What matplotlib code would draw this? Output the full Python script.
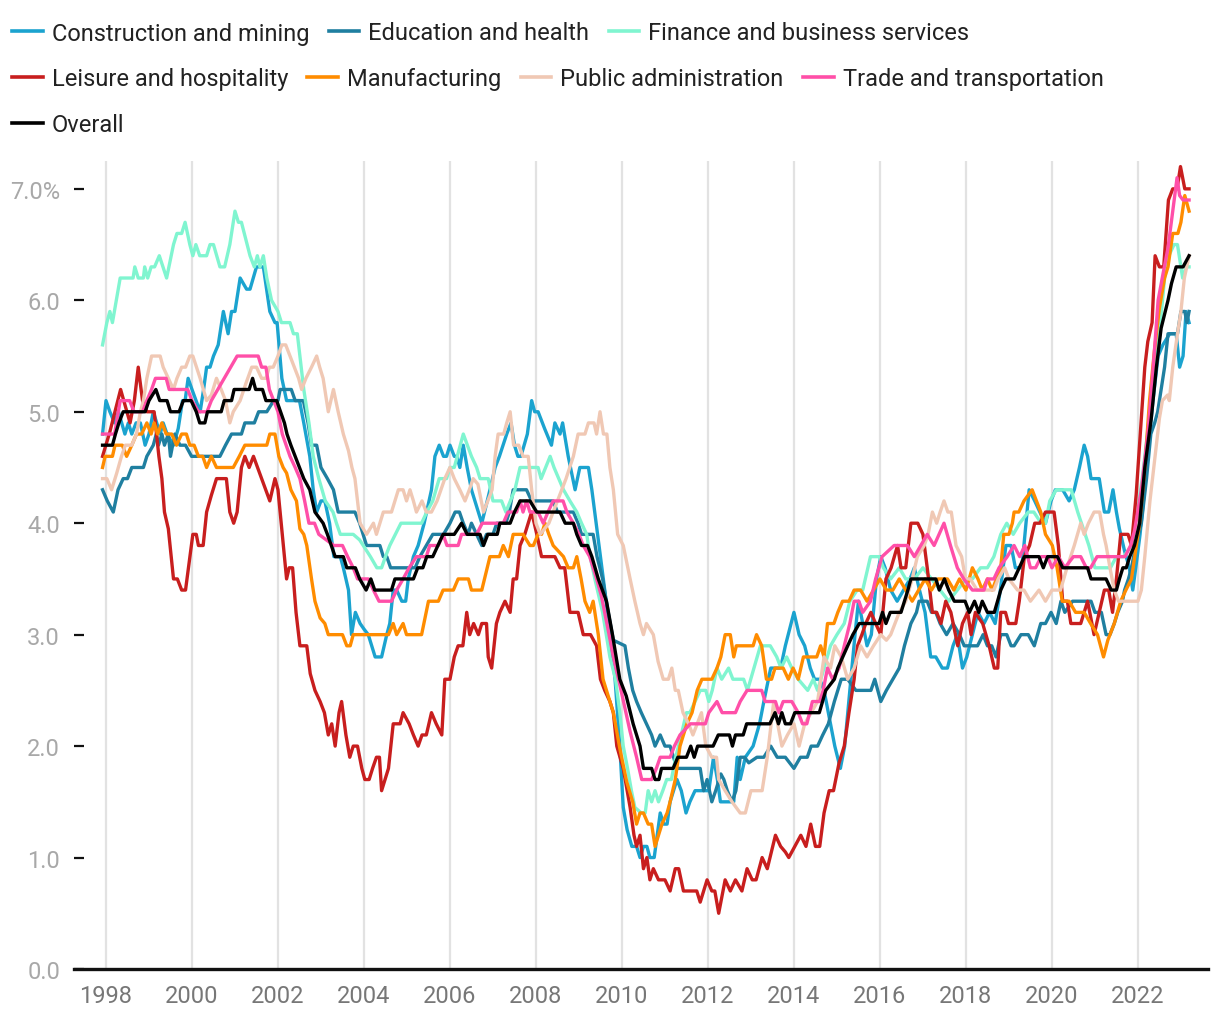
import matplotlib
matplotlib.use("Agg")
import matplotlib.pyplot as plt
import matplotlib.ticker as ticker
from matplotlib.lines import Line2D

plt.rcParams["font.family"] = ["Roboto", "DejaVu Sans"]

# (decimal year, 12-month wage growth %)
CONSTRUCTION = [
    (1997.92, 4.8), (1998.0, 5.1), (1998.09, 5.0), (1998.2, 4.9), (1998.29, 5.0), (1998.44, 4.8),
    (1998.52, 4.9), (1998.6, 4.8), (1998.7, 4.9), (1998.8, 4.9), (1998.91, 4.7), (1999.0, 4.8),
    (1999.1, 5.0), (1999.18, 4.9), (1999.26, 4.8), (1999.33, 4.9), (1999.42, 4.8), (1999.57, 4.7),
    (1999.68, 4.85), (1999.78, 5.1), (1999.84, 5.1), (1999.91, 5.3), (2000.0, 5.2), (2000.19, 5.0),
    (2000.27, 5.2), (2000.34, 5.4), (2000.42, 5.4), (2000.5, 5.5), (2000.61, 5.6), (2000.73, 5.9),
    (2000.84, 5.7), (2000.92, 5.9), (2001.0, 5.9), (2001.12, 6.2), (2001.27, 6.1), (2001.35, 6.1),
    (2001.5, 6.3), (2001.66, 6.3), (2001.81, 5.9), (2001.93, 5.8), (2001.98, 5.8), (2002.09, 5.3),
    (2002.2, 5.1), (2002.5, 5.1), (2002.6, 4.9), (2002.74, 4.6), (2002.82, 4.3), (2002.9, 4.1),
    (2003.0, 4.2), (2003.09, 4.2), (2003.2, 4.0), (2003.3, 3.7), (2003.45, 3.7), (2003.52, 3.6),
    (2003.64, 3.4), (2003.71, 3.0), (2003.8, 3.2), (2003.91, 3.1), (2004.0, 3.05), (2004.1, 3.0),
    (2004.26, 2.8), (2004.41, 2.8), (2004.53, 3.0), (2004.6, 3.1), (2004.68, 3.4), (2004.76, 3.4),
    (2004.88, 3.3), (2004.97, 3.3), (2005.03, 3.5), (2005.15, 3.7), (2005.26, 3.8), (2005.4, 4.0),
    (2005.57, 4.3), (2005.65, 4.6), (2005.75, 4.7), (2005.85, 4.6), (2005.92, 4.6), (2006.0, 4.7),
    (2006.1, 4.6), (2006.16, 4.6), (2006.23, 4.5), (2006.31, 4.7), (2006.4, 4.5), (2006.5, 4.3),
    (2006.74, 4.0), (2006.93, 4.3), (2007.05, 4.5), (2007.15, 4.6), (2007.32, 4.8), (2007.42, 4.9),
    (2007.5, 4.7), (2007.58, 4.6), (2007.65, 4.6), (2007.8, 4.8), (2007.9, 5.1), (2007.97, 5.0),
    (2008.05, 5.0), (2008.2, 4.85), (2008.36, 4.7), (2008.44, 4.9), (2008.56, 4.8), (2008.62, 4.9),
    (2008.75, 4.6), (2008.91, 4.3), (2009.02, 4.5), (2009.22, 4.5), (2009.3, 4.3), (2009.4, 4.0),
    (2009.5, 3.7), (2009.6, 3.4), (2009.72, 3.0), (2009.84, 2.6), (2009.95, 2.0), (2010.03, 1.45),
    (2010.12, 1.25), (2010.23, 1.1), (2010.34, 1.1), (2010.42, 1.0), (2010.5, 1.1), (2010.58, 1.1),
    (2010.65, 1.0), (2010.75, 1.0), (2010.89, 1.4), (2010.97, 1.3), (2011.05, 1.3), (2011.12, 1.5),
    (2011.28, 1.7), (2011.38, 1.6), (2011.49, 1.4), (2011.58, 1.5), (2011.7, 1.6), (2011.85, 1.6),
    (2012.02, 1.6), (2012.13, 1.9), (2012.22, 1.7), (2012.29, 1.5), (2012.5, 1.5), (2012.6, 1.5),
    (2012.68, 1.9), (2012.75, 1.7), (2012.87, 1.9), (2013.05, 2.0), (2013.2, 2.2), (2013.3, 2.4),
    (2013.46, 2.7), (2013.69, 2.7), (2013.8, 2.9), (2014.0, 3.2), (2014.12, 3.0), (2014.25, 2.9),
    (2014.38, 2.7), (2014.48, 2.6), (2014.6, 2.6), (2014.7, 2.5), (2014.8, 2.3), (2014.95, 2.0),
    (2015.08, 1.8), (2015.18, 2.0), (2015.3, 2.5), (2015.42, 3.0), (2015.5, 3.3), (2015.6, 3.1),
    (2015.7, 2.9), (2015.8, 3.0), (2015.92, 3.5), (2016.02, 3.7), (2016.12, 3.6), (2016.25, 3.4),
    (2016.4, 3.3), (2016.55, 3.4), (2016.7, 3.5), (2016.8, 3.6), (2016.92, 3.4), (2017.05, 3.2),
    (2017.18, 2.8), (2017.3, 2.8), (2017.45, 2.7), (2017.57, 2.7), (2017.7, 2.9), (2017.8, 3.0),
    (2017.92, 2.7), (2018.02, 2.8), (2018.15, 3.0), (2018.28, 3.2), (2018.42, 3.1), (2018.55, 3.2),
    (2018.68, 3.1), (2018.8, 3.4), (2018.93, 3.8), (2019.05, 3.8), (2019.15, 3.6), (2019.3, 3.6),
    (2019.47, 4.3), (2019.6, 4.2), (2019.72, 4.1), (2019.85, 4.0), (2019.98, 4.2), (2020.08, 4.3),
    (2020.25, 4.3), (2020.4, 4.2), (2020.52, 4.3), (2020.64, 4.5), (2020.75, 4.7), (2020.83, 4.6),
    (2020.91, 4.4), (2021.1, 4.4), (2021.22, 4.1), (2021.32, 4.1), (2021.42, 4.3), (2021.5, 4.1),
    (2021.57, 3.95), (2021.69, 3.75), (2021.8, 3.6), (2021.88, 3.4), (2021.95, 3.6), (2022.05, 3.9),
    (2022.18, 4.4), (2022.35, 5.1), (2022.47, 5.5), (2022.58, 5.6), (2022.74, 5.7), (2022.89, 5.7),
    (2022.97, 5.4), (2023.05, 5.5), (2023.12, 5.9), (2023.19, 5.8),
]

EDUCATION = [
    (1997.92, 4.3), (1998.03, 4.2), (1998.17, 4.1), (1998.28, 4.3), (1998.4, 4.4), (1998.5, 4.4),
    (1998.6, 4.5), (1998.87, 4.5), (1998.95, 4.6), (1999.1, 4.7), (1999.17, 4.8), (1999.22, 4.7),
    (1999.3, 4.8), (1999.36, 4.7), (1999.45, 4.8), (1999.5, 4.6), (1999.6, 4.8), (1999.72, 4.7),
    (1999.85, 4.7), (1999.99, 4.6), (2000.65, 4.6), (2000.78, 4.7), (2000.92, 4.8), (2001.15, 4.8),
    (2001.23, 4.9), (2001.45, 4.9), (2001.55, 5.0), (2001.74, 5.0), (2001.9, 5.1), (2002.0, 5.1),
    (2002.05, 5.2), (2002.31, 5.2), (2002.4, 5.1), (2002.59, 5.1), (2002.7, 4.9), (2002.78, 4.7),
    (2002.9, 4.7), (2003.0, 4.5), (2003.15, 4.4), (2003.29, 4.3), (2003.4, 4.1), (2003.79, 4.1),
    (2003.9, 4.0), (2004.06, 3.8), (2004.37, 3.8), (2004.45, 3.7), (2004.53, 3.7), (2004.62, 3.6),
    (2005.19, 3.6), (2005.3, 3.7), (2005.45, 3.8), (2005.6, 3.9), (2005.85, 3.9), (2006.0, 4.0),
    (2006.12, 4.1), (2006.22, 4.1), (2006.31, 4.0), (2006.42, 3.9), (2006.5, 4.0), (2006.62, 3.9),
    (2006.74, 3.8), (2006.85, 3.9), (2007.0, 3.9), (2007.09, 4.0), (2007.3, 4.0), (2007.38, 4.1),
    (2007.47, 4.3), (2007.78, 4.3), (2007.9, 4.2), (2008.4, 4.2), (2008.5, 4.1), (2008.87, 4.1),
    (2008.98, 4.0), (2009.06, 3.9), (2009.33, 3.9), (2009.42, 3.7), (2009.55, 3.5), (2009.68, 3.2),
    (2009.8, 2.95), (2010.07, 2.9), (2010.15, 2.7), (2010.25, 2.5), (2010.34, 2.4), (2010.45, 2.3),
    (2010.57, 2.2), (2010.69, 2.1), (2010.77, 2.0), (2010.89, 2.1), (2011.0, 2.0), (2011.12, 2.0),
    (2011.2, 1.9), (2011.28, 1.8), (2011.82, 1.8), (2011.9, 1.6), (2011.98, 1.7), (2012.09, 1.5),
    (2012.18, 1.6), (2012.3, 1.75), (2012.37, 1.7), (2012.45, 1.6), (2012.56, 1.5), (2012.65, 1.6),
    (2012.75, 1.9), (2012.85, 1.9), (2012.95, 1.85), (2013.14, 1.9), (2013.3, 1.9), (2013.46, 2.0),
    (2013.61, 1.9), (2013.8, 1.9), (2014.0, 1.8), (2014.15, 1.9), (2014.31, 1.9), (2014.4, 2.0),
    (2014.55, 2.0), (2014.67, 2.1), (2014.8, 2.2), (2014.94, 2.4), (2015.1, 2.6), (2015.25, 2.6),
    (2015.44, 2.5), (2015.79, 2.5), (2015.88, 2.6), (2016.02, 2.4), (2016.15, 2.5), (2016.3, 2.6),
    (2016.45, 2.7), (2016.57, 2.9), (2016.72, 3.1), (2016.85, 3.2), (2016.91, 3.3), (2017.1, 3.3),
    (2017.2, 3.2), (2017.3, 3.2), (2017.4, 3.1), (2017.55, 3.0), (2017.7, 3.1), (2017.85, 3.0),
    (2017.96, 2.9), (2018.27, 2.9), (2018.4, 3.0), (2018.5, 2.9), (2018.6, 2.9), (2018.7, 2.8),
    (2018.81, 3.0), (2018.95, 3.0), (2019.05, 2.9), (2019.12, 2.9), (2019.28, 3.0), (2019.45, 3.0),
    (2019.59, 2.9), (2019.74, 3.1), (2019.85, 3.1), (2019.98, 3.2), (2020.1, 3.1), (2020.21, 3.3),
    (2020.3, 3.2), (2020.48, 3.3), (2020.91, 3.3), (2021.0, 3.2), (2021.15, 3.2), (2021.26, 3.0),
    (2021.35, 3.0), (2021.45, 3.1), (2021.53, 3.2), (2021.64, 3.3), (2021.69, 3.4), (2021.78, 3.5),
    (2021.85, 3.6), (2021.95, 3.8), (2022.08, 4.0), (2022.2, 4.4), (2022.3, 4.8), (2022.39, 4.9),
    (2022.46, 5.0), (2022.54, 5.2), (2022.62, 5.4), (2022.7, 5.7), (2022.92, 5.7), (2023.0, 5.9),
    (2023.09, 5.9), (2023.14, 5.8), (2023.19, 5.9),
]

FINANCE = [
    (1997.92, 5.6), (1998.02, 5.8), (1998.09, 5.9), (1998.15, 5.8), (1998.33, 6.2), (1998.63, 6.2),
    (1998.67, 6.3), (1998.75, 6.2), (1998.87, 6.2), (1998.9, 6.3), (1998.97, 6.2), (1999.05, 6.3),
    (1999.13, 6.3), (1999.24, 6.4), (1999.41, 6.2), (1999.57, 6.5), (1999.65, 6.6), (1999.76, 6.6),
    (1999.84, 6.7), (1999.95, 6.5), (2000.02, 6.4), (2000.09, 6.5), (2000.18, 6.4), (2000.34, 6.4),
    (2000.42, 6.5), (2000.5, 6.5), (2000.65, 6.3), (2000.76, 6.3), (2000.88, 6.5), (2001.0, 6.8),
    (2001.08, 6.7), (2001.15, 6.7), (2001.35, 6.4), (2001.45, 6.3), (2001.52, 6.4), (2001.58, 6.3),
    (2001.66, 6.4), (2001.74, 6.2), (2001.85, 6.0), (2002.0, 5.9), (2002.08, 5.8), (2002.28, 5.8),
    (2002.36, 5.7), (2002.45, 5.7), (2002.51, 5.5), (2002.6, 5.2), (2002.72, 4.9), (2002.82, 4.6),
    (2002.95, 4.4), (2003.1, 4.2), (2003.28, 4.1), (2003.36, 4.0), (2003.45, 3.9), (2003.75, 3.9),
    (2003.9, 3.85), (2004.15, 3.7), (2004.3, 3.6), (2004.41, 3.6), (2004.5, 3.7), (2004.6, 3.8),
    (2004.86, 4.0), (2005.34, 4.0), (2005.46, 4.1), (2005.6, 4.2), (2005.75, 4.4), (2005.92, 4.4),
    (2006.0, 4.5), (2006.1, 4.5), (2006.31, 4.8), (2006.5, 4.6), (2006.62, 4.5), (2006.7, 4.4),
    (2006.89, 4.4), (2007.0, 4.2), (2007.2, 4.2), (2007.3, 4.1), (2007.51, 4.3), (2007.63, 4.5),
    (2008.05, 4.5), (2008.12, 4.4), (2008.33, 4.6), (2008.42, 4.5), (2008.64, 4.3), (2008.79, 4.2),
    (2008.95, 4.1), (2009.06, 4.0), (2009.18, 3.9), (2009.26, 3.7), (2009.37, 3.5), (2009.55, 3.2),
    (2009.72, 2.8), (2009.85, 2.6), (2009.95, 2.3), (2010.03, 2.0), (2010.13, 1.8), (2010.22, 1.6),
    (2010.3, 1.45), (2010.45, 1.4), (2010.54, 1.4), (2010.61, 1.6), (2010.69, 1.5), (2010.77, 1.6),
    (2010.85, 1.5), (2010.95, 1.6), (2011.04, 1.7), (2011.15, 1.7), (2011.25, 1.9), (2011.38, 2.1),
    (2011.5, 2.3), (2011.58, 2.3), (2011.7, 2.4), (2011.82, 2.5), (2011.95, 2.5), (2012.02, 2.4),
    (2012.1, 2.5), (2012.21, 2.7), (2012.32, 2.6), (2012.48, 2.7), (2012.58, 2.6), (2012.83, 2.6),
    (2012.92, 2.5), (2013.07, 2.7), (2013.22, 2.9), (2013.45, 2.9), (2013.6, 2.8), (2013.7, 2.7),
    (2013.83, 2.8), (2013.95, 2.7), (2014.1, 2.6), (2014.32, 2.5), (2014.45, 2.6), (2014.55, 2.5),
    (2014.7, 2.7), (2014.85, 2.9), (2015.0, 3.0), (2015.17, 3.1), (2015.3, 3.3), (2015.47, 3.4),
    (2015.6, 3.4), (2015.78, 3.7), (2015.98, 3.7), (2016.08, 3.6), (2016.25, 3.5), (2016.45, 3.6),
    (2016.6, 3.5), (2016.8, 3.5), (2017.0, 3.6), (2017.2, 3.5), (2017.4, 3.4), (2017.6, 3.3),
    (2017.8, 3.4), (2018.0, 3.5), (2018.15, 3.5), (2018.34, 3.6), (2018.5, 3.6), (2018.65, 3.7),
    (2018.81, 3.9), (2018.95, 4.0), (2019.1, 3.9), (2019.25, 4.0), (2019.45, 4.1), (2019.58, 4.1),
    (2019.75, 4.0), (2019.85, 4.0), (2019.95, 4.2), (2020.1, 4.3), (2020.45, 4.3), (2020.6, 4.1),
    (2020.86, 3.8), (2021.0, 3.6), (2021.36, 3.6), (2021.5, 3.7), (2021.67, 3.7), (2021.85, 3.8),
    (2021.95, 4.0), (2022.1, 4.4), (2022.25, 4.9), (2022.38, 5.4), (2022.5, 5.7), (2022.62, 6.2),
    (2022.72, 6.4), (2022.84, 6.5), (2022.92, 6.5), (2023.04, 6.2), (2023.12, 6.3), (2023.19, 6.3),
]

LEISURE = [
    (1997.92, 4.6), (1998.09, 4.82), (1998.34, 5.2), (1998.45, 5.05), (1998.56, 4.9), (1998.66, 5.1),
    (1998.75, 5.4), (1998.85, 5.1), (1998.95, 5.0), (1999.12, 5.0), (1999.23, 4.6), (1999.3, 4.4),
    (1999.36, 4.1), (1999.45, 3.95), (1999.57, 3.5), (1999.66, 3.5), (1999.76, 3.4), (1999.85, 3.4),
    (2000.02, 3.9), (2000.1, 3.9), (2000.15, 3.8), (2000.26, 3.8), (2000.34, 4.1), (2000.45, 4.25),
    (2000.57, 4.4), (2000.8, 4.4), (2000.88, 4.1), (2000.97, 4.0), (2001.05, 4.1), (2001.15, 4.5),
    (2001.23, 4.6), (2001.33, 4.5), (2001.43, 4.6), (2001.62, 4.4), (2001.81, 4.2), (2001.93, 4.4),
    (2002.0, 4.3), (2002.1, 3.9), (2002.2, 3.5), (2002.26, 3.6), (2002.34, 3.6), (2002.42, 3.2),
    (2002.51, 2.9), (2002.67, 2.9), (2002.75, 2.65), (2002.86, 2.5), (2002.98, 2.4), (2003.08, 2.3),
    (2003.17, 2.1), (2003.25, 2.2), (2003.33, 2.0), (2003.42, 2.3), (2003.48, 2.4), (2003.58, 2.1),
    (2003.67, 1.9), (2003.75, 2.0), (2003.85, 2.0), (2003.95, 1.8), (2004.02, 1.7), (2004.12, 1.7),
    (2004.2, 1.8), (2004.29, 1.9), (2004.36, 1.9), (2004.41, 1.6), (2004.57, 1.8), (2004.68, 2.2),
    (2004.84, 2.2), (2004.91, 2.3), (2005.05, 2.2), (2005.15, 2.1), (2005.26, 2.0), (2005.35, 2.1),
    (2005.45, 2.1), (2005.57, 2.3), (2005.68, 2.2), (2005.81, 2.1), (2005.88, 2.6), (2006.0, 2.6),
    (2006.1, 2.8), (2006.19, 2.9), (2006.3, 2.9), (2006.39, 3.2), (2006.46, 3.0), (2006.55, 3.1),
    (2006.66, 3.0), (2006.74, 3.1), (2006.85, 3.1), (2006.89, 2.8), (2006.97, 2.7), (2007.08, 3.1),
    (2007.16, 3.2), (2007.28, 3.3), (2007.4, 3.2), (2007.47, 3.5), (2007.55, 3.5), (2007.63, 3.8),
    (2007.74, 3.9), (2007.9, 4.1), (2008.02, 3.9), (2008.13, 3.7), (2008.44, 3.7), (2008.56, 3.6),
    (2008.67, 3.6), (2008.79, 3.2), (2008.98, 3.2), (2009.1, 3.0), (2009.27, 3.0), (2009.41, 2.9),
    (2009.5, 2.6), (2009.6, 2.5), (2009.72, 2.4), (2009.8, 2.3), (2009.88, 2.0), (2010.03, 1.8),
    (2010.19, 1.45), (2010.28, 1.2), (2010.34, 1.1), (2010.42, 1.2), (2010.5, 0.9), (2010.58, 1.0),
    (2010.65, 0.8), (2010.73, 0.9), (2010.85, 0.8), (2011.0, 0.8), (2011.12, 0.7), (2011.24, 0.9),
    (2011.32, 0.9), (2011.43, 0.7), (2011.74, 0.7), (2011.82, 0.6), (2011.98, 0.8), (2012.09, 0.7),
    (2012.16, 0.7), (2012.25, 0.5), (2012.4, 0.8), (2012.52, 0.7), (2012.64, 0.8), (2012.79, 0.7),
    (2012.91, 0.9), (2013.03, 0.8), (2013.12, 0.8), (2013.26, 1.0), (2013.38, 0.9), (2013.57, 1.2),
    (2013.69, 1.1), (2013.8, 1.05), (2013.88, 1.0), (2014.16, 1.2), (2014.28, 1.1), (2014.39, 1.3),
    (2014.5, 1.1), (2014.6, 1.1), (2014.7, 1.4), (2014.82, 1.6), (2014.92, 1.6), (2015.05, 1.85),
    (2015.17, 2.0), (2015.28, 2.3), (2015.4, 2.6), (2015.48, 2.9), (2015.58, 3.0), (2015.67, 3.1),
    (2015.79, 3.2), (2015.9, 3.1), (2016.02, 3.0), (2016.14, 3.5), (2016.26, 3.6), (2016.41, 3.8),
    (2016.49, 3.6), (2016.6, 3.6), (2016.72, 4.0), (2016.88, 4.0), (2017.0, 3.9), (2017.1, 3.6),
    (2017.22, 3.2), (2017.32, 3.2), (2017.42, 3.1), (2017.53, 3.3), (2017.65, 3.2), (2017.81, 2.9),
    (2017.92, 3.1), (2018.04, 3.2), (2018.12, 3.0), (2018.22, 3.2), (2018.3, 3.15), (2018.39, 3.1),
    (2018.54, 2.9), (2018.66, 2.7), (2018.74, 2.7), (2018.81, 3.2), (2018.92, 3.2), (2018.99, 3.1),
    (2019.16, 3.1), (2019.24, 3.3), (2019.36, 3.7), (2019.48, 3.8), (2019.6, 4.0), (2019.72, 4.0),
    (2019.85, 4.1), (2020.05, 4.1), (2020.15, 3.8), (2020.25, 3.3), (2020.36, 3.3), (2020.44, 3.1),
    (2020.67, 3.1), (2020.83, 3.3), (2020.98, 3.0), (2021.1, 3.2), (2021.22, 3.4), (2021.32, 3.4),
    (2021.41, 3.2), (2021.5, 3.5), (2021.6, 3.9), (2021.77, 3.9), (2021.85, 3.8), (2021.96, 4.26),
    (2022.08, 4.94), (2022.16, 5.4), (2022.23, 5.63), (2022.33, 5.8), (2022.4, 6.4), (2022.5, 6.3),
    (2022.6, 6.3), (2022.71, 6.9), (2022.81, 7.0), (2022.91, 7.0), (2022.99, 7.2), (2023.09, 7.0),
    (2023.19, 7.0),
]

MANUFACTURING = [
    (1997.92, 4.5), (1997.98, 4.6), (1998.15, 4.6), (1998.21, 4.7), (1998.38, 4.7), (1998.48, 4.6),
    (1998.6, 4.7), (1998.71, 4.8), (1998.83, 4.8), (1998.95, 4.9), (1999.05, 4.8), (1999.12, 4.9),
    (1999.2, 4.8), (1999.3, 4.9), (1999.4, 4.8), (1999.53, 4.8), (1999.64, 4.7), (1999.76, 4.8),
    (1999.87, 4.8), (1999.95, 4.7), (2000.05, 4.7), (2000.15, 4.6), (2000.25, 4.6), (2000.34, 4.5),
    (2000.45, 4.6), (2000.57, 4.5), (2000.96, 4.5), (2001.1, 4.6), (2001.23, 4.7), (2001.74, 4.7),
    (2001.81, 4.8), (2001.93, 4.8), (2002.02, 4.6), (2002.12, 4.5), (2002.2, 4.45), (2002.3, 4.3),
    (2002.43, 4.2), (2002.51, 3.95), (2002.6, 3.9), (2002.67, 3.8), (2002.78, 3.5), (2002.86, 3.3),
    (2002.98, 3.15), (2003.09, 3.1), (2003.17, 3.0), (2003.5, 3.0), (2003.6, 2.9), (2003.68, 2.9),
    (2003.75, 3.0), (2004.57, 3.0), (2004.68, 3.1), (2004.76, 3.0), (2004.91, 3.1), (2004.99, 3.0),
    (2005.34, 3.0), (2005.5, 3.3), (2005.73, 3.3), (2005.84, 3.4), (2006.08, 3.4), (2006.19, 3.5),
    (2006.43, 3.5), (2006.5, 3.4), (2006.74, 3.4), (2006.93, 3.7), (2007.15, 3.7), (2007.24, 3.8),
    (2007.36, 3.7), (2007.47, 3.9), (2007.7, 3.9), (2007.86, 3.8), (2007.94, 3.8), (2008.05, 3.9),
    (2008.13, 3.9), (2008.21, 4.0), (2008.3, 3.9), (2008.4, 3.8), (2008.52, 3.75), (2008.64, 3.7),
    (2008.75, 3.6), (2008.87, 3.6), (2008.95, 3.7), (2009.05, 3.5), (2009.14, 3.3), (2009.25, 3.2),
    (2009.33, 3.3), (2009.45, 3.0), (2009.56, 2.6), (2009.64, 2.5), (2009.8, 2.3), (2009.95, 1.98),
    (2010.11, 1.68), (2010.25, 1.5), (2010.34, 1.3), (2010.42, 1.4), (2010.5, 1.4), (2010.61, 1.3),
    (2010.69, 1.3), (2010.77, 1.1), (2010.85, 1.2), (2010.93, 1.3), (2011.05, 1.4), (2011.12, 1.5),
    (2011.24, 1.7), (2011.35, 2.0), (2011.51, 2.2), (2011.63, 2.3), (2011.75, 2.5), (2011.86, 2.6),
    (2012.09, 2.6), (2012.21, 2.7), (2012.3, 2.8), (2012.4, 3.0), (2012.52, 3.0), (2012.6, 2.8),
    (2012.66, 2.9), (2013.05, 2.9), (2013.13, 3.0), (2013.25, 2.9), (2013.36, 2.6), (2013.48, 2.6),
    (2013.56, 2.7), (2013.75, 2.7), (2013.87, 2.6), (2013.98, 2.7), (2014.1, 2.6), (2014.22, 2.8),
    (2014.53, 2.8), (2014.62, 2.9), (2014.7, 2.8), (2014.78, 3.1), (2014.93, 3.1), (2015.02, 3.2),
    (2015.13, 3.3), (2015.28, 3.3), (2015.4, 3.4), (2015.55, 3.4), (2015.7, 3.3), (2015.85, 3.4),
    (2016.0, 3.5), (2016.15, 3.4), (2016.3, 3.4), (2016.45, 3.5), (2016.6, 3.4), (2016.75, 3.3),
    (2016.9, 3.4), (2017.05, 3.5), (2017.2, 3.4), (2017.35, 3.5), (2017.57, 3.5), (2017.72, 3.4),
    (2017.85, 3.5), (2018.0, 3.4), (2018.15, 3.6), (2018.28, 3.5), (2018.38, 3.4), (2018.5, 3.5),
    (2018.61, 3.4), (2018.81, 3.6), (2018.88, 3.9), (2019.0, 3.9), (2019.08, 4.0), (2019.12, 4.1),
    (2019.23, 4.1), (2019.35, 4.2), (2019.54, 4.3), (2019.64, 4.2), (2019.74, 4.1), (2019.85, 3.9),
    (2020.01, 3.8), (2020.12, 3.6), (2020.24, 3.3), (2020.4, 3.3), (2020.55, 3.2), (2020.75, 3.2),
    (2020.9, 3.1), (2021.06, 3.0), (2021.2, 2.8), (2021.3, 2.95), (2021.45, 3.1), (2021.6, 3.3),
    (2021.72, 3.4), (2021.85, 3.5), (2022.04, 4.0), (2022.16, 4.5), (2022.27, 5.1), (2022.39, 5.57),
    (2022.5, 5.93), (2022.62, 6.2), (2022.7, 6.3), (2022.81, 6.6), (2022.93, 6.6), (2023.0, 6.7),
    (2023.09, 6.94), (2023.19, 6.8),
]

PUBLIC_ADMIN = [
    (1997.92, 4.4), (1998.02, 4.4), (1998.13, 4.3), (1998.25, 4.45), (1998.36, 4.6), (1998.45, 4.7),
    (1998.6, 4.7), (1998.71, 4.8), (1998.8, 5.0), (1998.87, 5.1), (1998.95, 5.3), (1999.06, 5.5),
    (1999.26, 5.5), (1999.33, 5.4), (1999.45, 5.3), (1999.57, 5.2), (1999.65, 5.3), (1999.76, 5.4),
    (1999.85, 5.4), (1999.95, 5.5), (2000.02, 5.5), (2000.19, 5.3), (2000.34, 5.1), (2000.45, 5.15),
    (2000.57, 5.3), (2000.68, 5.2), (2000.78, 5.1), (2000.88, 4.9), (2000.96, 5.0), (2001.12, 5.1),
    (2001.25, 5.25), (2001.39, 5.4), (2001.5, 5.4), (2001.62, 5.3), (2001.72, 5.3), (2001.8, 5.4),
    (2001.89, 5.4), (2002.0, 5.5), (2002.09, 5.6), (2002.18, 5.6), (2002.28, 5.5), (2002.38, 5.4),
    (2002.48, 5.3), (2002.55, 5.2), (2002.65, 5.3), (2002.78, 5.4), (2002.9, 5.5), (2002.97, 5.4),
    (2003.05, 5.3), (2003.17, 5.0), (2003.29, 5.2), (2003.4, 5.0), (2003.52, 4.8), (2003.64, 4.65),
    (2003.72, 4.5), (2003.79, 4.4), (2003.85, 4.2), (2003.91, 4.0), (2004.06, 3.9), (2004.22, 4.0),
    (2004.29, 3.9), (2004.45, 4.1), (2004.64, 4.1), (2004.8, 4.3), (2004.91, 4.3), (2004.99, 4.2),
    (2005.07, 4.3), (2005.15, 4.2), (2005.22, 4.1), (2005.35, 4.2), (2005.45, 4.1), (2005.57, 4.1),
    (2005.7, 4.2), (2005.88, 4.4), (2006.0, 4.5), (2006.1, 4.4), (2006.23, 4.3), (2006.35, 4.2),
    (2006.45, 4.3), (2006.54, 4.4), (2006.65, 4.35), (2006.78, 4.1), (2006.88, 4.2), (2006.98, 4.3),
    (2007.05, 4.6), (2007.12, 4.8), (2007.25, 4.8), (2007.32, 4.9), (2007.4, 5.0), (2007.48, 4.7),
    (2007.6, 4.7), (2007.7, 4.6), (2007.82, 4.6), (2007.9, 4.3), (2008.0, 4.0), (2008.1, 3.9),
    (2008.3, 4.0), (2008.5, 4.2), (2008.7, 4.4), (2008.87, 4.6), (2008.98, 4.8), (2009.14, 4.8),
    (2009.22, 4.9), (2009.35, 4.9), (2009.41, 4.8), (2009.49, 5.0), (2009.57, 4.8), (2009.65, 4.8),
    (2009.72, 4.5), (2009.8, 4.3), (2009.9, 3.9), (2010.03, 3.8), (2010.19, 3.5), (2010.3, 3.3),
    (2010.42, 3.1), (2010.5, 3.0), (2010.57, 3.1), (2010.73, 3.0), (2010.84, 2.76), (2010.96, 2.6),
    (2011.08, 2.6), (2011.16, 2.7), (2011.24, 2.5), (2011.31, 2.5), (2011.42, 2.3), (2011.55, 2.2),
    (2011.65, 2.1), (2011.75, 2.2), (2011.85, 2.3), (2011.95, 2.0), (2012.09, 1.9), (2012.2, 1.9),
    (2012.25, 1.7), (2012.4, 1.6), (2012.56, 1.5), (2012.75, 1.4), (2012.87, 1.4), (2013.0, 1.6),
    (2013.26, 1.6), (2013.38, 1.9), (2013.53, 2.4), (2013.62, 2.2), (2013.72, 2.0), (2013.85, 2.1),
    (2014.0, 2.2), (2014.12, 2.0), (2014.25, 2.2), (2014.4, 2.3), (2014.55, 2.4), (2014.7, 2.8),
    (2014.85, 2.7), (2014.95, 2.9), (2015.1, 2.8), (2015.25, 2.6), (2015.4, 2.7), (2015.55, 2.9),
    (2015.7, 2.8), (2015.85, 2.9), (2016.02, 3.0), (2016.15, 2.95), (2016.25, 3.0), (2016.45, 3.2),
    (2016.6, 3.3), (2016.75, 3.5), (2016.87, 3.7), (2017.03, 3.8), (2017.12, 3.9), (2017.22, 4.1),
    (2017.32, 4.0), (2017.4, 4.1), (2017.49, 4.2), (2017.58, 4.1), (2017.66, 4.1), (2017.77, 3.8),
    (2017.9, 3.7), (2017.99, 3.5), (2018.1, 3.5), (2018.26, 3.4), (2018.65, 3.4), (2018.75, 3.5),
    (2018.9, 3.6), (2019.0, 3.5), (2019.2, 3.4), (2019.35, 3.4), (2019.5, 3.3), (2019.7, 3.4),
    (2019.85, 3.3), (2020.0, 3.4), (2020.2, 3.4), (2020.35, 3.6), (2020.52, 3.8), (2020.67, 4.0),
    (2020.75, 3.9), (2020.85, 4.0), (2020.98, 4.1), (2021.11, 4.1), (2021.2, 3.9), (2021.26, 3.8),
    (2021.35, 3.6), (2021.45, 3.4), (2021.55, 3.3), (2022.0, 3.3), (2022.08, 3.4), (2022.16, 3.7),
    (2022.28, 4.2), (2022.4, 4.6), (2022.5, 4.94), (2022.57, 5.1), (2022.69, 5.15), (2022.73, 5.1),
    (2022.81, 5.4), (2022.92, 5.7), (2023.0, 5.9), (2023.08, 6.2), (2023.19, 6.4),
]

TRADE = [
    (1997.92, 4.8), (1998.2, 4.8), (1998.33, 5.1), (1998.55, 5.1), (1998.65, 5.0), (1998.85, 5.0),
    (1998.95, 5.1), (1999.06, 5.2), (1999.15, 5.3), (1999.4, 5.3), (1999.47, 5.2), (1999.9, 5.2),
    (2000.0, 5.1), (2000.15, 5.0), (2000.35, 5.0), (2000.45, 5.1), (2000.6, 5.2), (2000.75, 5.3),
    (2000.9, 5.4), (2001.05, 5.5), (2001.54, 5.5), (2001.62, 5.4), (2001.72, 5.4), (2001.8, 5.2),
    (2001.9, 5.1), (2002.0, 5.0), (2002.1, 4.8), (2002.28, 4.6), (2002.4, 4.5), (2002.51, 4.4),
    (2002.62, 4.2), (2002.72, 4.0), (2002.85, 4.0), (2002.95, 3.9), (2003.3, 3.8), (2003.5, 3.8),
    (2003.62, 3.7), (2003.75, 3.6), (2003.85, 3.5), (2004.1, 3.5), (2004.22, 3.4), (2004.35, 3.3),
    (2004.64, 3.3), (2004.76, 3.4), (2004.91, 3.5), (2005.05, 3.6), (2005.22, 3.7), (2005.45, 3.7),
    (2005.53, 3.8), (2005.73, 3.8), (2005.84, 3.9), (2005.93, 3.8), (2006.19, 3.8), (2006.27, 3.9),
    (2006.62, 3.9), (2006.75, 4.0), (2007.24, 4.0), (2007.35, 4.1), (2007.55, 4.1), (2007.63, 4.2),
    (2007.7, 4.1), (2007.78, 4.2), (2007.86, 4.1), (2008.05, 4.1), (2008.17, 4.0), (2008.28, 4.1),
    (2008.4, 4.2), (2008.63, 4.2), (2008.72, 4.1), (2008.87, 4.0), (2009.0, 3.9), (2009.1, 3.8),
    (2009.25, 3.7), (2009.41, 3.5), (2009.52, 3.35), (2009.65, 3.1), (2009.8, 2.8), (2009.95, 2.55),
    (2010.19, 2.13), (2010.34, 1.9), (2010.46, 1.7), (2010.69, 1.7), (2010.8, 1.8), (2010.89, 1.9),
    (2011.12, 1.9), (2011.22, 2.0), (2011.35, 2.1), (2011.47, 2.15), (2011.59, 2.2), (2011.94, 2.2),
    (2012.02, 2.3), (2012.21, 2.4), (2012.33, 2.3), (2012.64, 2.3), (2012.75, 2.4), (2012.91, 2.5),
    (2013.25, 2.5), (2013.33, 2.4), (2013.57, 2.4), (2013.65, 2.3), (2013.75, 2.4), (2013.95, 2.4),
    (2014.1, 2.3), (2014.2, 2.2), (2014.3, 2.2), (2014.43, 2.4), (2014.6, 2.4), (2014.68, 2.5),
    (2014.78, 2.7), (2014.9, 2.6), (2015.05, 2.7), (2015.17, 2.9), (2015.3, 3.1), (2015.4, 3.3),
    (2015.51, 3.3), (2015.6, 3.2), (2015.78, 3.3), (2015.9, 3.5), (2016.05, 3.7), (2016.33, 3.8),
    (2016.64, 3.8), (2016.8, 3.7), (2016.95, 3.8), (2017.1, 3.9), (2017.26, 3.8), (2017.49, 4.0),
    (2017.64, 3.8), (2017.8, 3.6), (2017.95, 3.5), (2018.15, 3.4), (2018.42, 3.4), (2018.5, 3.5),
    (2018.65, 3.5), (2018.77, 3.6), (2018.96, 3.7), (2019.12, 3.8), (2019.25, 3.7), (2019.37, 3.8),
    (2019.5, 3.6), (2019.62, 3.6), (2019.75, 3.7), (2019.9, 3.7), (2020.0, 3.6), (2020.15, 3.7),
    (2020.3, 3.6), (2020.5, 3.7), (2020.67, 3.7), (2020.8, 3.6), (2020.9, 3.6), (2021.05, 3.7),
    (2021.7, 3.7), (2021.83, 3.8), (2021.92, 3.93), (2022.08, 4.3), (2022.23, 4.8), (2022.35, 5.37),
    (2022.47, 6.0), (2022.58, 6.23), (2022.7, 6.47), (2022.81, 6.8), (2022.91, 7.1), (2022.97, 6.94),
    (2023.05, 6.9), (2023.19, 6.9),
]

OVERALL = [
    (1997.92, 4.7), (1998.15, 4.7), (1998.22, 4.8), (1998.3, 4.9), (1998.4, 5.0), (1998.91, 5.0),
    (1999.0, 5.1), (1999.16, 5.2), (1999.25, 5.1), (1999.42, 5.1), (1999.5, 5.0), (1999.7, 5.0),
    (1999.8, 5.1), (1999.98, 5.1), (2000.1, 5.0), (2000.18, 4.9), (2000.3, 4.9), (2000.36, 5.0),
    (2000.68, 5.0), (2000.75, 5.1), (2000.92, 5.1), (2000.98, 5.2), (2001.33, 5.2), (2001.41, 5.3),
    (2001.48, 5.2), (2001.64, 5.2), (2001.72, 5.1), (2001.97, 5.1), (2002.06, 5.0), (2002.15, 4.9),
    (2002.21, 4.8), (2002.3, 4.7), (2002.4, 4.6), (2002.5, 4.5), (2002.6, 4.4), (2002.74, 4.3),
    (2002.86, 4.1), (2003.05, 4.0), (2003.15, 3.9), (2003.33, 3.7), (2003.52, 3.7), (2003.6, 3.6),
    (2003.8, 3.6), (2003.9, 3.5), (2004.05, 3.4), (2004.16, 3.5), (2004.25, 3.4), (2004.64, 3.4),
    (2004.72, 3.5), (2005.15, 3.5), (2005.25, 3.6), (2005.37, 3.6), (2005.46, 3.7), (2005.6, 3.7),
    (2005.72, 3.8), (2005.84, 3.9), (2006.1, 3.9), (2006.27, 4.0), (2006.4, 3.9), (2006.7, 3.9),
    (2006.78, 3.8), (2006.88, 3.9), (2007.1, 3.9), (2007.16, 4.0), (2007.4, 4.0), (2007.5, 4.1),
    (2007.63, 4.2), (2007.86, 4.2), (2008.02, 4.1), (2008.56, 4.1), (2008.68, 4.0), (2008.87, 4.0),
    (2008.95, 3.9), (2009.06, 3.8), (2009.2, 3.8), (2009.3, 3.7), (2009.45, 3.5), (2009.64, 3.3),
    (2009.78, 3.0), (2009.95, 2.6), (2010.1, 2.45), (2010.26, 2.2), (2010.42, 2.0), (2010.5, 1.8),
    (2010.69, 1.8), (2010.77, 1.7), (2010.86, 1.7), (2010.92, 1.8), (2011.19, 1.8), (2011.3, 1.9),
    (2011.5, 1.9), (2011.6, 2.0), (2011.68, 1.9), (2011.76, 2.0), (2012.12, 2.0), (2012.24, 2.1),
    (2012.5, 2.1), (2012.57, 2.0), (2012.64, 2.1), (2012.82, 2.1), (2012.9, 2.2), (2013.44, 2.2),
    (2013.56, 2.3), (2013.64, 2.2), (2013.72, 2.3), (2013.8, 2.2), (2013.92, 2.2), (2014.02, 2.3),
    (2014.59, 2.3), (2014.74, 2.5), (2014.94, 2.6), (2015.02, 2.7), (2015.25, 2.9), (2015.37, 3.0),
    (2015.52, 3.1), (2015.98, 3.1), (2016.06, 3.2), (2016.14, 3.1), (2016.24, 3.2), (2016.49, 3.2),
    (2016.57, 3.3), (2016.65, 3.4), (2016.72, 3.5), (2017.3, 3.5), (2017.38, 3.4), (2017.5, 3.5),
    (2017.6, 3.4), (2017.73, 3.3), (2017.98, 3.3), (2018.08, 3.2), (2018.2, 3.3), (2018.3, 3.2),
    (2018.38, 3.3), (2018.5, 3.2), (2018.66, 3.2), (2018.81, 3.4), (2018.93, 3.5), (2019.12, 3.5),
    (2019.24, 3.6), (2019.36, 3.7), (2019.7, 3.7), (2019.8, 3.6), (2019.9, 3.7), (2020.13, 3.7),
    (2020.25, 3.6), (2020.83, 3.6), (2020.91, 3.5), (2021.26, 3.5), (2021.38, 3.4), (2021.5, 3.4),
    (2021.57, 3.5), (2021.65, 3.6), (2021.73, 3.6), (2021.81, 3.7), (2021.92, 3.8), (2022.04, 4.0),
    (2022.16, 4.5), (2022.31, 4.94), (2022.43, 5.4), (2022.54, 5.75), (2022.7, 6.0), (2022.78, 6.15),
    (2022.89, 6.3), (2023.05, 6.3), (2023.19, 6.4),
]

SERIES = [
    ("Construction and mining", CONSTRUCTION, "#1ba3cf"),
    ("Education and health", EDUCATION, "#1f7fa0"),
    ("Finance and business services", FINANCE, "#80f5d0"),
    ("Leisure and hospitality", LEISURE, "#c81e1e"),
    ("Manufacturing", MANUFACTURING, "#ff8c00"),
    ("Public administration", PUBLIC_ADMIN, "#f0c8b4"),
    ("Trade and transportation", TRADE, "#ff4fa8"),
    ("Overall", OVERALL, "#000000"),
]
LEGEND_ROWS = [[0, 1, 2], [3, 4, 5, 6], [7]]
YEAR_TICKS = list(range(1998, 2023, 2))
Y_TICKS = [0, 1, 2, 3, 4, 5, 6, 7]

W, H = 1220, 1020
FS = 17


def y_label(v, _):
    return f"{v:.1f}%" if v == Y_TICKS[-1] else f"{v:.1f}"


fig = plt.figure(figsize=(W / 100, H / 100), dpi=100)
ax = fig.add_axes([74 / W, 50 / H, 1134 / W, 808 / H])

for name, pts, color in SERIES:
    xs = [p[0] for p in pts]
    ys = [p[1] for p in pts]
    ax.plot(xs, ys, color=color, linewidth=2.4, solid_joinstyle="round", clip_on=False)

ax.set_xlim(1997.256, 2023.63)
ax.set_ylim(0, 7.25)

ax.set_xticks(YEAR_TICKS)
ax.set_yticks(Y_TICKS)
ax.yaxis.set_major_formatter(ticker.FuncFormatter(y_label))
ax.grid(axis="x", color="#e2e2e2", linewidth=1.6)
ax.set_axisbelow(True)

for side in ("top", "right", "left"):
    ax.spines[side].set_visible(False)
ax.spines["bottom"].set_linewidth(2.4)
ax.spines["bottom"].set_color("#111111")

ax.tick_params(axis="x", length=0, pad=11, labelsize=FS, labelcolor="#777777")
ax.tick_params(axis="y", direction="in", length=7, width=1.6, color="#111111",
               pad=10, labelsize=FS, labelcolor="#a8a8a8")

# legend: three flowing rows above the plot
for r, row in enumerate(LEGEND_ROWS):
    row_handles = [Line2D([], [], color=SERIES[i][2], linewidth=2.6) for i in row]
    leg = fig.legend(
        row_handles,
        [SERIES[i][0] for i in row],
        loc="center left",
        bbox_to_anchor=(12 / W, 1 - (34 + 46 * r) / H),
        ncol=len(row),
        frameon=False,
        fontsize=FS,
        handlelength=1.3,
        handletextpad=0.38,
        columnspacing=0.82,
        borderpad=0,
        borderaxespad=0,
    )
    for t in leg.get_texts():
        t.set_color("#222222")

fig.savefig("out.png", dpi=100)
